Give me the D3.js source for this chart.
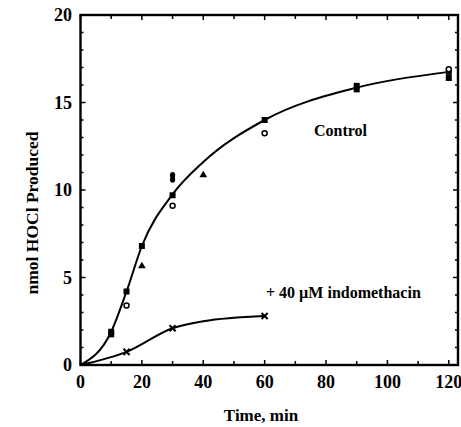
<!DOCTYPE html>
<html><head><meta charset="utf-8">
<script src="https://cdn.jsdelivr.net/npm/d3@7"></script>
<style>
html,body{margin:0;padding:0;background:#fff;}
text{font-family:"Liberation Serif","Times New Roman",serif;font-weight:bold;fill:#000;}
</style></head>
<body><svg id="c" width="461" height="427"></svg>
<script>
// Data (time in min, nmol HOCl)
const controlSquareT = [10, 10, 15, 20, 30, 60, 90, 90, 120, 120];
const controlSquareV = [1.9, 1.75, 4.2, 6.8, 9.7, 14.0, 15.75, 15.95, 16.75, 16.4];
const controlCircleT = [15, 30, 60, 120];
const controlCircleV = [3.4, 9.1, 13.25, 16.9];
const controlTriangleT = [20, 40];
const controlTriangleV = [5.65, 10.85];
const controlDotT = [30, 30];
const controlDotV = [10.6, 10.85];
const controlCurveT = [0, 10, 15, 20, 30, 40, 60, 90, 120];
const controlCurveV = [0, 1.9, 4.2, 6.8, 9.75, 11.6, 14.0, 15.85, 16.75];
const indoT = [15, 30, 60];
const indoV = [0.75, 2.1, 2.8];
const indoCurveT = [0, 15, 30, 40, 60];
const indoCurveV = [0, 0.75, 2.1, 2.5, 2.8];
const xTicks = [0, 20, 40, 60, 80, 100, 120];
const yTicks = [0, 5, 10, 15, 20];

const svg = d3.select("#c");
const x = d3.scaleLinear().domain([0, 123]).range([80.5, 458]);
const y = d3.scaleLinear().domain([0, 20]).range([365, 15]);

const g = svg.append("g");
const minorY = d3.range(0, 21, 1);
const minorX = d3.range(0, 121, 10);
g.selectAll(".ly").data(minorY).enter().append("line")
  .attr("x1", x(0)).attr("x2", d => x(0) + (d % 5 === 0 ? 5 : 3))
  .attr("y1", d => y(d)).attr("y2", d => y(d)).attr("stroke", "#000").attr("stroke-width", 1.5);
g.selectAll(".ry").data(minorY).enter().append("line")
  .attr("x1", 458).attr("x2", d => 458 - (d % 5 === 0 ? 5 : 3))
  .attr("y1", d => y(d)).attr("y2", d => y(d)).attr("stroke", "#000").attr("stroke-width", 1.5);
g.selectAll(".bx").data(minorX).enter().append("line")
  .attr("x1", d => x(d)).attr("x2", d => x(d))
  .attr("y1", y(0)).attr("y2", d => y(0) - (d % 20 === 0 ? 5 : 4)).attr("stroke", "#000").attr("stroke-width", 1.5);
g.selectAll(".tx").data(minorX).enter().append("line")
  .attr("x1", d => x(d)).attr("x2", d => x(d))
  .attr("y1", y(20)).attr("y2", d => y(20) + (d % 20 === 0 ? 5 : 4)).attr("stroke", "#000").attr("stroke-width", 1.5);

g.append("rect").attr("x", x(0)).attr("y", y(20)).attr("width", 458 - x(0)).attr("height", y(0) - y(20))
  .attr("fill", "none").attr("stroke", "#000").attr("stroke-width", 2.4);

g.selectAll(".xl").data(xTicks).enter().append("text")
  .attr("x", d => x(d)).attr("y", 388).attr("text-anchor", "middle")
  .style("font-size", "18px").text(d => d);
g.selectAll(".yl").data(yTicks).enter().append("text")
  .attr("x", 72).attr("y", d => y(d) + 6).attr("text-anchor", "end")
  .style("font-size", "18px").text(d => d);

g.append("text").attr("x", 261).attr("y", 421).attr("text-anchor", "middle")
  .style("font-size", "17px").text("Time, min");
g.append("text").attr("transform", "translate(38,213) rotate(-90)").attr("text-anchor", "middle")
  .style("font-size", "17.5px").text("nmol HOCl Produced");

const line = d3.line().x(d => x(d[0])).y(d => y(d[1])).curve(d3.curveMonotoneX);
g.append("path").datum(d3.zip(controlCurveT, controlCurveV)).attr("d", line)
  .attr("fill", "none").attr("stroke", "#000").attr("stroke-width", 2);
g.append("path").datum(d3.zip(indoCurveT, indoCurveV)).attr("d", line)
  .attr("fill", "none").attr("stroke", "#000").attr("stroke-width", 2);

const sq = d3.symbol().type(d3.symbolSquare).size(36);
g.selectAll(".sq").data(d3.zip(controlSquareT, controlSquareV)).enter().append("path")
  .attr("d", sq).attr("transform", d => `translate(${x(d[0])},${y(d[1])})`).attr("fill", "#000");
g.selectAll(".ci").data(d3.zip(controlCircleT, controlCircleV)).enter().append("circle")
  .attr("cx", d => x(d[0])).attr("cy", d => y(d[1])).attr("r", 2.5)
  .attr("fill", "#fff").attr("stroke", "#000").attr("stroke-width", 1.5);
const tri = d3.symbol().type(d3.symbolTriangle).size(26);
g.selectAll(".tr").data(d3.zip(controlTriangleT, controlTriangleV)).enter().append("path")
  .attr("d", tri).attr("transform", d => `translate(${x(d[0])},${y(d[1])})`).attr("fill", "#000");
g.selectAll(".dt").data(d3.zip(controlDotT, controlDotV)).enter().append("ellipse")
  .attr("cx", d => x(d[0])).attr("cy", d => y(d[1])).attr("rx", 2.6).attr("ry", 3.2)
  .attr("fill", "#000");
const cross = d3.symbol().type(d3.symbolX).size(26);
g.selectAll(".cr").data(d3.zip(indoT, indoV)).enter().append("path")
  .attr("d", cross).attr("transform", d => `translate(${x(d[0])},${y(d[1])})`)
  .attr("fill", "none").attr("stroke", "#000").attr("stroke-width", 2);

g.append("text").attr("x", 314).attr("y", 136).style("font-size", "16px").text("Control");
g.append("text").attr("x", 266).attr("y", 298).style("font-size", "16px").text("+ 40 \u00B5M indomethacin");
</script></body></html>
